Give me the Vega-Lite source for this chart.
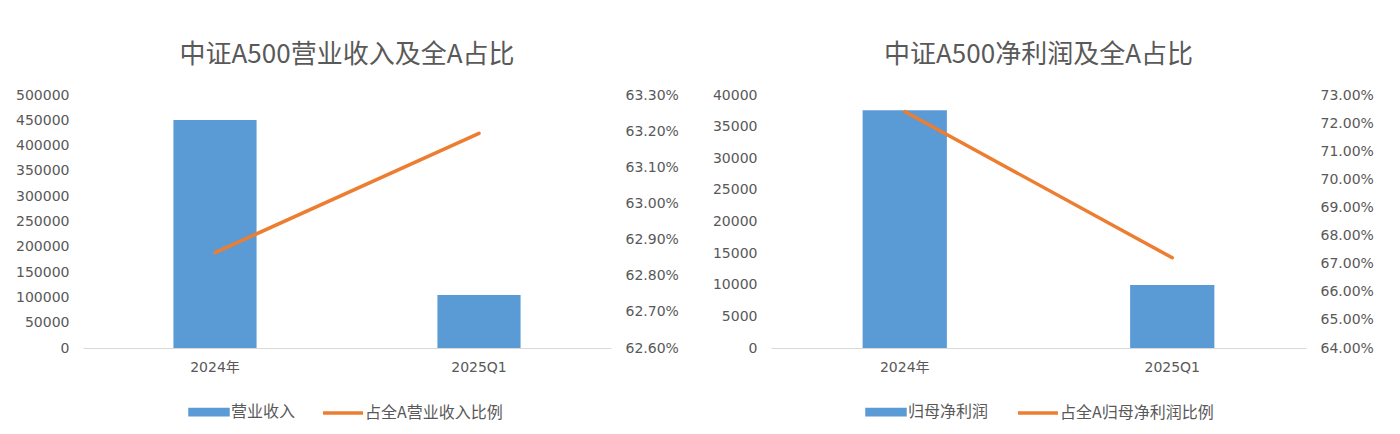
{
  "$schema": "https://vega.github.io/schema/vega-lite/v6.json",
  "padding": {"left": 15, "top": 42, "right": 5, "bottom": 5},
  "background": "white",
  "datasets": {
    "revenue": [
      {"期间": "2024年", "营业收入": 450600, "占全A营业收入比例": 0.62864},
      {"期间": "2025Q1", "营业收入": 104700, "占全A营业收入比例": 0.63194}
    ],
    "profit": [
      {"期间": "2024年", "归母净利润": 37600, "占全A归母净利润比例": 0.7241},
      {"期间": "2025Q1", "归母净利润": 9960, "占全A归母净利润比例": 0.6721}
    ]
  },
  "config": {
    "font": "DejaVu Sans, Noto Sans CJK SC",
    "view": {"stroke": null},
    "axis": {"labelColor": "#595959", "labelFontSize": 14, "ticks": false, "grid": false, "domain": false, "title": null, "labelPadding": 14},
    "title": {"fontSize": 26, "fontWeight": "normal", "color": "#595959", "offset": 20, "font": "Noto Sans CJK SC"},
    "concat": {"spacing": 20}
  },
  "resolve": {"scale": {"color": "independent"}, "legend": {"color": "independent"}},
  "hconcat": [
    {
      "title": "中证A500营业收入及全A占比",
      "width": 528,
      "height": 253,
      "data": {"name": "revenue"},
      "encoding": {
        "x": {"field": "期间", "type": "nominal", "sort": null,
          "scale": {"paddingInner": 0.685, "paddingOuter": 0.3425},
          "axis": {"labelAngle": 0, "domain": true, "domainColor": "#D9D9D9", "domainWidth": 1, "labelPadding": 12}}
      },
      "layer": [
        {
          "mark": {"type": "bar"},
          "encoding": {
            "y": {"field": "营业收入", "type": "quantitative", "scale": {"domain": [0, 500000], "nice": false},
              "axis": {"values": [0, 50000, 100000, 150000, 200000, 250000, 300000, 350000, 400000, 450000, 500000], "format": "d", "minExtent": 67, "maxExtent": 67}},
            "color": {"datum": "营业收入", "type": "nominal",
              "scale": {"domain": ["营业收入", "占全A营业收入比例"], "range": ["#5B9BD5", "#ED7D31"]},
              "legend": {"orient": "none", "legendX": 104, "legendY": 295, "direction": "horizontal", "title": null, "labelFontSize": 16, "labelColor": "#595959", "labelFont": "Noto Sans CJK SC", "symbolSize": 1600, "labelOffset": 0, "columnPadding": 20,
                "encode": {"symbols": {"update": {
                  "shape": {"signal": "datum.value === '营业收入' ? 'M-0.95,-0.13H0.95V0.13H-0.95Z' : 'M-1,0H1'"},
                  "fill": {"signal": "datum.value === '营业收入' ? '#5B9BD5' : 'transparent'"},
                  "stroke": {"signal": "datum.value === '营业收入' ? 'transparent' : '#ED7D31'"},
                  "strokeWidth": {"value": 3.5},
                  "opacity": {"value": 1}}}}}}
          }
        },
        {
          "mark": {"type": "line", "strokeWidth": 3.5, "strokeCap": "round"},
          "encoding": {
            "y": {"field": "占全A营业收入比例", "type": "quantitative", "scale": {"domain": [0.626, 0.633], "nice": false, "zero": false},
              "axis": {"orient": "right", "format": ".2%", "values": [0.626, 0.627, 0.628, 0.629, 0.63, 0.631, 0.632, 0.633], "minExtent": 70, "maxExtent": 70}},
            "color": {"datum": "占全A营业收入比例", "type": "nominal"}
          }
        }
      ],
      "resolve": {"scale": {"y": "independent"}}
    },
    {
      "title": "中证A500净利润及全A占比",
      "width": 535,
      "height": 253,
      "data": {"name": "profit"},
      "encoding": {
        "x": {"field": "期间", "type": "nominal", "sort": null,
          "scale": {"paddingInner": 0.685, "paddingOuter": 0.3425},
          "axis": {"labelAngle": 0, "domain": true, "domainColor": "#D9D9D9", "domainWidth": 1, "labelPadding": 12}}
      },
      "layer": [
        {
          "mark": {"type": "bar"},
          "encoding": {
            "y": {"field": "归母净利润", "type": "quantitative", "scale": {"domain": [0, 40000], "nice": false},
              "axis": {"values": [0, 5000, 10000, 15000, 20000, 25000, 30000, 35000, 40000], "format": "d", "minExtent": 70, "maxExtent": 70}},
            "color": {"datum": "归母净利润", "type": "nominal",
              "scale": {"domain": ["归母净利润", "占全A归母净利润比例"], "range": ["#5B9BD5", "#ED7D31"]},
              "legend": {"orient": "none", "legendX": 93, "legendY": 295, "direction": "horizontal", "title": null, "labelFontSize": 16, "labelColor": "#595959", "labelFont": "Noto Sans CJK SC", "symbolSize": 1600, "labelOffset": 0, "columnPadding": 22,
                "encode": {"symbols": {"update": {
                  "shape": {"signal": "datum.value === '归母净利润' ? 'M-0.95,-0.13H0.95V0.13H-0.95Z' : 'M-1,0H1'"},
                  "fill": {"signal": "datum.value === '归母净利润' ? '#5B9BD5' : 'transparent'"},
                  "stroke": {"signal": "datum.value === '归母净利润' ? 'transparent' : '#ED7D31'"},
                  "strokeWidth": {"value": 3.5},
                  "opacity": {"value": 1}}}}}}
          }
        },
        {
          "mark": {"type": "line", "strokeWidth": 3.5, "strokeCap": "round"},
          "encoding": {
            "y": {"field": "占全A归母净利润比例", "type": "quantitative", "scale": {"domain": [0.64, 0.73], "nice": false, "zero": false},
              "axis": {"orient": "right", "format": ".2%", "values": [0.64, 0.65, 0.66, 0.67, 0.68, 0.69, 0.7, 0.71, 0.72, 0.73]}},
            "color": {"datum": "占全A归母净利润比例", "type": "nominal"}
          }
        }
      ],
      "resolve": {"scale": {"y": "independent"}}
    }
  ]
}
